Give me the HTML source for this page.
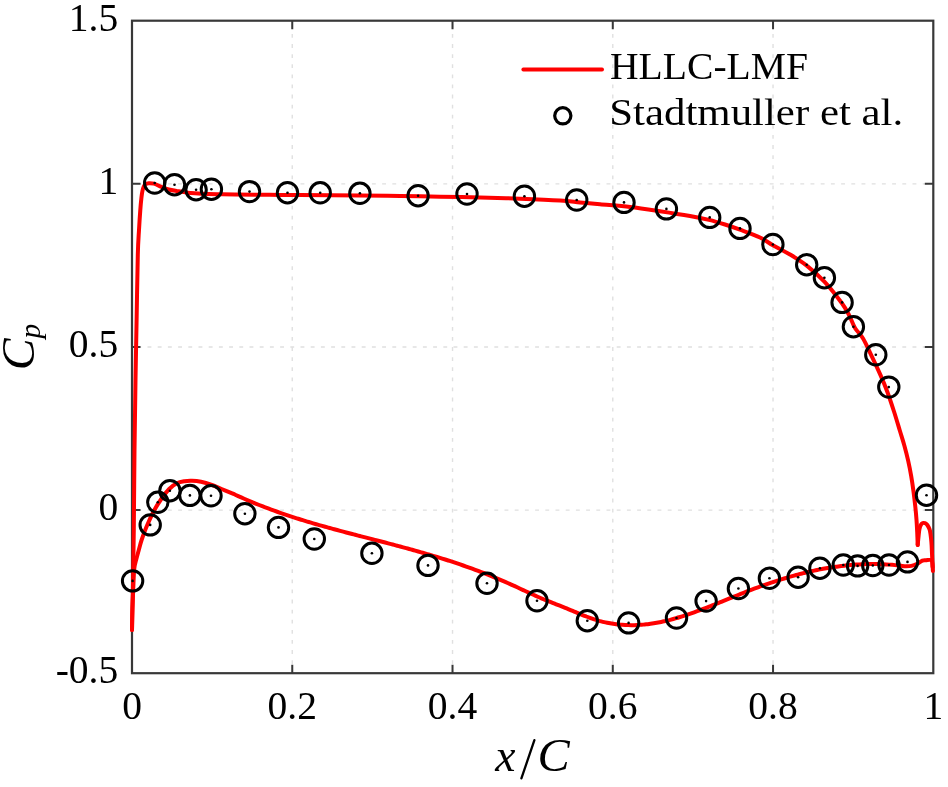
<!DOCTYPE html><html><head><meta charset="utf-8"><title>Cp plot</title><style>html,body{margin:0;padding:0;background:#fff;}svg{display:block;will-change:transform;}text{font-family:"Liberation Serif",serif;}</style></head><body>
<svg width="948" height="787" viewBox="0 0 948 787">
<rect width="948" height="787" fill="#fff"/>
<g stroke="#e0e0e0" stroke-width="1.4" stroke-dasharray="3.8 6.3" stroke-dashoffset="6.9"><line x1="292.26" y1="20.70" x2="292.26" y2="673.20"/><line x1="452.52" y1="20.70" x2="452.52" y2="673.20"/><line x1="612.78" y1="20.70" x2="612.78" y2="673.20"/><line x1="773.04" y1="20.70" x2="773.04" y2="673.20"/></g>
<g stroke="#e0e0e0" stroke-width="1.4" stroke-dasharray="3.9 6.3" stroke-dashoffset="4.9"><line x1="132.00" y1="510.08" x2="933.30" y2="510.08"/><line x1="132.00" y1="346.95" x2="933.30" y2="346.95"/><line x1="132.00" y1="183.83" x2="933.30" y2="183.83"/></g>
<path d="M292.26,673.20V664.70M292.26,20.70V29.20M452.52,673.20V664.70M452.52,20.70V29.20M612.78,673.20V664.70M612.78,20.70V29.20M773.04,673.20V664.70M773.04,20.70V29.20M132.00,510.08H140.50M933.30,510.08H924.80M132.00,346.95H140.50M933.30,346.95H924.80M132.00,183.83H140.50M933.30,183.83H924.80" stroke="#383838" stroke-width="2" fill="none"/>
<rect x="132.00" y="20.70" width="801.30" height="652.50" fill="none" stroke="#383838" stroke-width="2.2"/>
<path d="M132.00,630.00 C132.07,626.67 132.25,616.67 132.40,610.00 C132.55,603.33 132.67,603.33 132.90,590.00 C133.13,576.67 133.53,553.33 133.80,530.00 C134.07,506.67 134.22,475.00 134.50,450.00 C134.78,425.00 135.15,401.67 135.50,380.00 C135.85,358.33 136.22,340.83 136.60,320.00 C136.98,299.17 137.40,270.00 137.80,255.00 C138.20,240.00 138.58,237.50 139.00,230.00 C139.42,222.50 139.90,215.33 140.30,210.00 C140.70,204.67 141.05,201.15 141.40,198.00 C141.75,194.85 142.00,193.02 142.40,191.10 C142.80,189.18 143.28,187.65 143.80,186.50 C144.32,185.35 144.68,184.75 145.50,184.20 C146.32,183.65 147.28,183.28 148.70,183.20 C150.12,183.12 151.88,183.08 154.00,183.70 C156.12,184.32 158.93,185.93 161.40,186.90 C163.87,187.87 166.17,188.80 168.80,189.50 C171.43,190.20 174.05,190.57 177.20,191.10 C180.35,191.63 184.18,192.32 187.70,192.70 C191.22,193.08 194.78,193.17 198.30,193.40 C201.82,193.63 205.28,193.95 208.80,194.10 C212.32,194.25 215.03,194.25 219.40,194.30 C223.77,194.35 226.57,194.32 235.00,194.40 C243.43,194.48 259.17,194.70 270.00,194.80 C280.83,194.90 285.00,194.88 300.00,195.00 C315.00,195.12 343.33,195.33 360.00,195.50 C376.67,195.67 386.67,195.80 400.00,196.00 C413.33,196.20 426.67,196.45 440.00,196.70 C453.33,196.95 466.67,197.17 480.00,197.50 C493.33,197.83 506.67,198.20 520.00,198.70 C533.33,199.20 550.00,199.88 560.00,200.50 C570.00,201.12 573.33,201.77 580.00,202.40 C586.67,203.03 591.67,203.53 600.00,204.30 C608.33,205.07 620.00,205.85 630.00,207.00 C640.00,208.15 650.00,209.70 660.00,211.20 C670.00,212.70 681.83,214.55 690.00,216.00 C698.17,217.45 703.17,218.48 709.00,219.90 C714.83,221.32 719.83,222.87 725.00,224.50 C730.17,226.13 734.17,227.53 740.00,229.70 C745.83,231.87 754.52,234.90 760.00,237.50 C765.48,240.10 767.90,242.47 772.90,245.30 C777.90,248.13 784.37,251.12 790.00,254.50 C795.63,257.88 800.97,261.08 806.70,265.60 C812.43,270.12 818.50,275.28 824.40,281.60 C830.30,287.92 837.92,297.77 842.10,303.50 C846.28,309.23 847.35,311.92 849.50,316.00 C851.65,320.08 852.77,324.28 855.00,328.00 C857.23,331.72 860.32,334.03 862.90,338.30 C865.48,342.57 867.58,347.50 870.50,353.60 C873.42,359.70 877.60,368.55 880.40,374.90 C883.20,381.25 885.03,385.60 887.30,391.70 C889.57,397.80 891.92,405.03 894.00,411.50 C896.08,417.97 898.07,424.80 899.80,430.50 C901.53,436.20 903.00,440.63 904.40,445.70 C905.80,450.77 907.07,455.83 908.20,460.90 C909.33,465.97 910.32,471.02 911.20,476.10 C912.08,481.18 912.82,486.32 913.50,491.40 C914.18,496.48 914.80,501.87 915.30,506.60 C915.80,511.33 916.18,515.57 916.50,519.80 C916.82,524.03 917.00,527.80 917.20,532.00 C917.40,536.20 917.62,542.83 917.70,545.00" fill="none" stroke="#ff0000" stroke-width="4.0" stroke-linejoin="round" stroke-linecap="round"/>
<path d="M917.70,545.00 C917.85,543.50 918.32,538.60 918.60,536.00 C918.88,533.40 919.03,531.23 919.40,529.40 C919.77,527.57 920.23,526.07 920.80,525.00 C921.37,523.93 922.10,523.30 922.80,523.00 C923.50,522.70 924.33,522.97 925.00,523.20 C925.67,523.43 926.22,523.77 926.80,524.40 C927.38,525.03 927.98,525.98 928.50,527.00 C929.02,528.02 929.48,528.67 929.90,530.50 C930.32,532.33 930.72,535.58 931.00,538.00 C931.28,540.42 931.40,541.67 931.60,545.00 C931.80,548.33 931.98,553.67 932.20,558.00 C932.42,562.33 932.78,568.83 932.90,571.00" fill="none" stroke="#ff0000" stroke-width="4.0" stroke-linejoin="round" stroke-linecap="round"/>
<path d="M932.60,567.00 C932.42,565.90 932.60,561.53 931.50,560.40 C930.40,559.27 927.53,560.17 926.00,560.20 C924.47,560.23 923.77,560.00 922.30,560.60 C920.83,561.20 919.02,562.92 917.20,563.80 C915.38,564.68 913.43,565.48 911.40,565.90 C909.37,566.32 906.20,566.28 905.00,566.33 C903.80,566.39 904.83,566.30 904.20,566.22 C903.57,566.13 902.20,565.94 901.20,565.81 C900.20,565.69 899.20,565.57 898.20,565.45 C897.20,565.34 896.20,565.23 895.20,565.13 C894.20,565.03 893.20,564.94 892.20,564.85 C891.20,564.77 890.20,564.69 889.20,564.62 C888.20,564.54 887.20,564.48 886.20,564.42 C885.20,564.36 884.20,564.31 883.20,564.26 C882.20,564.22 881.20,564.18 880.20,564.15 C879.20,564.11 878.20,564.09 877.20,564.07 C876.20,564.05 875.20,564.04 874.20,564.03 C873.20,564.02 872.20,564.02 871.20,564.03 C870.20,564.03 869.20,564.05 868.20,564.06 C867.20,564.08 866.20,564.11 865.20,564.14 C864.20,564.17 863.20,564.21 862.20,564.25 C861.20,564.29 860.20,564.34 859.20,564.40 C858.20,564.45 857.20,564.51 856.20,564.58 C855.20,564.64 854.20,564.72 853.20,564.80 C852.20,564.87 851.20,564.96 850.20,565.05 C849.20,565.14 848.20,565.23 847.20,565.34 C846.20,565.44 845.20,565.54 844.20,565.66 C843.20,565.77 842.20,565.89 841.20,566.01 C840.20,566.13 839.20,566.26 838.20,566.40 C837.20,566.53 836.20,566.67 835.20,566.82 C834.20,566.96 833.20,567.11 832.20,567.27 C831.20,567.43 830.20,567.59 829.20,567.75 C828.20,567.92 827.20,568.09 826.20,568.27 C825.20,568.44 824.20,568.62 823.20,568.81 C822.20,569.00 821.20,569.19 820.20,569.39 C819.20,569.58 818.20,569.78 817.20,569.99 C816.20,570.20 815.20,570.41 814.20,570.62 C813.20,570.84 812.20,571.06 811.20,571.29 C810.20,571.51 809.20,571.74 808.20,571.98 C807.20,572.21 806.20,572.45 805.20,572.70 C804.20,572.94 803.20,573.19 802.20,573.44 C801.20,573.69 800.20,573.95 799.20,574.21 C798.20,574.48 797.20,574.74 796.20,575.01 C795.20,575.28 794.20,575.56 793.20,575.84 C792.20,576.12 791.20,576.40 790.20,576.69 C789.20,576.97 788.20,577.27 787.20,577.56 C786.20,577.86 785.20,578.16 784.20,578.46 C783.20,578.76 782.20,579.07 781.20,579.38 C780.20,579.69 779.20,580.01 778.20,580.33 C777.20,580.65 776.20,580.97 775.20,581.30 C774.20,581.63 773.20,581.96 772.20,582.29 C771.20,582.63 770.20,582.96 769.20,583.31 C768.20,583.65 767.20,583.99 766.20,584.34 C765.20,584.69 764.20,585.04 763.20,585.40 C762.20,585.75 761.20,586.11 760.20,586.47 C759.20,586.84 758.20,587.20 757.20,587.57 C756.20,587.94 755.20,588.31 754.20,588.69 C753.20,589.06 752.20,589.44 751.20,589.83 C750.20,590.21 749.20,590.59 748.20,590.98 C747.20,591.37 746.20,591.76 745.20,592.15 C744.20,592.55 743.20,592.94 742.20,593.34 C741.20,593.74 740.20,594.14 739.20,594.54 C738.20,594.94 737.20,595.34 736.20,595.75 C735.20,596.15 734.20,596.56 733.20,596.96 C732.20,597.37 731.20,597.77 730.20,598.18 C729.20,598.59 728.20,599.00 727.20,599.40 C726.20,599.81 725.20,600.22 724.20,600.63 C723.20,601.03 722.20,601.44 721.20,601.85 C720.20,602.25 719.20,602.66 718.20,603.06 C717.20,603.47 716.20,603.87 715.20,604.27 C714.20,604.67 713.20,605.07 712.20,605.47 C711.20,605.86 710.20,606.26 709.20,606.65 C708.20,607.05 707.20,607.44 706.20,607.82 C705.20,608.21 704.20,608.60 703.20,608.98 C702.20,609.36 701.20,609.74 700.20,610.11 C699.20,610.48 698.20,610.85 697.20,611.22 C696.20,611.59 695.20,611.95 694.20,612.31 C693.20,612.66 692.20,613.02 691.20,613.37 C690.20,613.71 689.20,614.06 688.20,614.40 C687.20,614.73 686.20,615.07 685.20,615.39 C684.20,615.72 683.20,616.04 682.20,616.36 C681.20,616.67 680.20,616.98 679.20,617.28 C678.20,617.59 677.20,617.88 676.20,618.17 C675.20,618.46 674.20,618.74 673.20,619.02 C672.20,619.29 671.20,619.56 670.20,619.82 C669.20,620.08 668.20,620.33 667.20,620.57 C666.20,620.81 665.20,621.05 664.20,621.27 C663.20,621.50 662.20,621.72 661.20,621.93 C660.20,622.14 659.20,622.34 658.20,622.53 C657.20,622.72 656.20,622.90 655.20,623.07 C654.20,623.24 653.20,623.40 652.20,623.55 C651.20,623.70 650.20,623.85 649.20,623.98 C648.20,624.11 647.20,624.23 646.20,624.34 C645.20,624.45 644.20,624.55 643.20,624.63 C642.20,624.72 641.20,624.80 640.20,624.87 C639.20,624.93 638.20,624.99 637.20,625.03 C636.20,625.08 635.20,625.11 634.20,625.13 C633.20,625.15 632.20,625.16 631.20,625.16 C630.20,625.16 629.20,625.15 628.20,625.12 C627.20,625.09 626.20,625.06 625.20,625.01 C624.20,624.96 623.20,624.90 622.20,624.82 C621.20,624.75 620.20,624.66 619.20,624.56 C618.20,624.46 617.20,624.35 616.20,624.23 C615.20,624.10 614.20,623.96 613.20,623.81 C612.20,623.66 611.20,623.50 610.20,623.32 C609.20,623.14 608.20,622.95 607.20,622.75 C606.20,622.54 605.20,622.33 604.20,622.10 C603.20,621.87 602.20,621.62 601.20,621.36 C600.20,621.11 599.20,620.84 598.20,620.55 C597.20,620.27 596.20,619.97 595.20,619.66 C594.20,619.34 593.20,619.02 592.20,618.68 C591.20,618.34 590.20,617.99 589.20,617.62 C588.20,617.26 587.20,616.88 586.20,616.49 C585.20,616.10 584.20,615.71 583.20,615.30 C582.20,614.90 581.20,614.49 580.20,614.07 C579.20,613.66 578.20,613.24 577.20,612.82 C576.20,612.40 575.20,611.98 574.20,611.56 C573.20,611.14 572.20,610.72 571.20,610.30 C570.20,609.88 569.20,609.47 568.20,609.06 C567.20,608.66 566.20,608.25 565.20,607.85 C564.20,607.45 563.20,607.05 562.20,606.66 C561.20,606.26 560.20,605.87 559.20,605.48 C558.20,605.08 557.20,604.69 556.20,604.30 C555.20,603.91 554.20,603.51 553.20,603.12 C552.20,602.73 551.20,602.33 550.20,601.93 C549.20,601.54 548.20,601.14 547.20,600.73 C546.20,600.33 545.20,599.92 544.20,599.51 C543.20,599.10 542.20,598.68 541.20,598.26 C540.20,597.84 539.20,597.41 538.20,596.98 C537.20,596.54 536.20,596.10 535.20,595.65 C534.20,595.21 533.20,594.75 532.20,594.29 C531.20,593.84 530.20,593.38 529.20,592.91 C528.20,592.45 527.20,591.98 526.20,591.51 C525.20,591.04 524.20,590.57 523.20,590.10 C522.20,589.63 521.20,589.16 520.20,588.70 C519.20,588.23 518.20,587.76 517.20,587.30 C516.20,586.84 515.20,586.38 514.20,585.92 C513.20,585.46 512.20,585.01 511.20,584.56 C510.20,584.11 509.20,583.67 508.20,583.22 C507.20,582.78 506.20,582.34 505.20,581.90 C504.20,581.47 503.20,581.04 502.20,580.61 C501.20,580.18 500.20,579.75 499.20,579.33 C498.20,578.90 497.20,578.48 496.20,578.07 C495.20,577.65 494.20,577.24 493.20,576.83 C492.20,576.42 491.20,576.01 490.20,575.61 C489.20,575.21 488.20,574.81 487.20,574.41 C486.20,574.01 485.20,573.62 484.20,573.23 C483.20,572.84 482.20,572.45 481.20,572.07 C480.20,571.68 479.20,571.30 478.20,570.92 C477.20,570.55 476.20,570.17 475.20,569.80 C474.20,569.43 473.20,569.06 472.20,568.70 C471.20,568.33 470.20,567.97 469.20,567.61 C468.20,567.25 467.20,566.89 466.20,566.54 C465.20,566.19 464.20,565.84 463.20,565.49 C462.20,565.14 461.20,564.80 460.20,564.46 C459.20,564.12 458.20,563.78 457.20,563.44 C456.20,563.10 455.20,562.77 454.20,562.44 C453.20,562.11 452.20,561.78 451.20,561.45 C450.20,561.13 449.20,560.80 448.20,560.48 C447.20,560.16 446.20,559.84 445.20,559.53 C444.20,559.21 443.20,558.89 442.20,558.58 C441.20,558.27 440.20,557.96 439.20,557.65 C438.20,557.34 437.20,557.04 436.20,556.73 C435.20,556.43 434.20,556.13 433.20,555.83 C432.20,555.53 431.20,555.23 430.20,554.94 C429.20,554.64 428.20,554.35 427.20,554.05 C426.20,553.76 425.20,553.47 424.20,553.18 C423.20,552.89 422.20,552.61 421.20,552.32 C420.20,552.03 419.20,551.75 418.20,551.47 C417.20,551.18 416.20,550.90 415.20,550.62 C414.20,550.34 413.20,550.07 412.20,549.79 C411.20,549.51 410.20,549.24 409.20,548.96 C408.20,548.69 407.20,548.41 406.20,548.14 C405.20,547.87 404.20,547.60 403.20,547.33 C402.20,547.06 401.20,546.79 400.20,546.52 C399.20,546.25 398.20,545.99 397.20,545.72 C396.20,545.45 395.20,545.19 394.20,544.92 C393.20,544.66 392.20,544.39 391.20,544.13 C390.20,543.87 389.20,543.61 388.20,543.34 C387.20,543.08 386.20,542.82 385.20,542.56 C384.20,542.30 383.20,542.04 382.20,541.78 C381.20,541.52 380.20,541.26 379.20,541.00 C378.20,540.74 377.20,540.48 376.20,540.23 C375.20,539.97 374.20,539.71 373.20,539.45 C372.20,539.19 371.20,538.93 370.20,538.68 C369.20,538.42 368.20,538.16 367.20,537.90 C366.20,537.65 365.20,537.39 364.20,537.13 C363.20,536.87 362.20,536.61 361.20,536.36 C360.20,536.10 359.20,535.84 358.20,535.58 C357.20,535.32 356.20,535.06 355.20,534.80 C354.20,534.54 353.20,534.28 352.20,534.02 C351.20,533.76 350.20,533.50 349.20,533.24 C348.20,532.97 347.20,532.71 346.20,532.45 C345.20,532.18 344.20,531.92 343.20,531.66 C342.20,531.39 341.20,531.12 340.20,530.86 C339.20,530.59 338.20,530.32 337.20,530.05 C336.20,529.78 335.20,529.51 334.20,529.24 C333.20,528.97 332.20,528.70 331.20,528.43 C330.20,528.15 329.20,527.88 328.20,527.60 C327.20,527.32 326.20,527.05 325.20,526.77 C324.20,526.49 323.20,526.21 322.20,525.92 C321.20,525.64 320.20,525.36 319.20,525.07 C318.20,524.78 317.20,524.50 316.20,524.21 C315.20,523.92 314.20,523.63 313.20,523.33 C312.20,523.04 311.20,522.75 310.20,522.45 C309.20,522.15 308.20,521.85 307.20,521.55 C306.20,521.25 305.20,520.95 304.20,520.64 C303.20,520.33 302.20,520.03 301.20,519.72 C300.20,519.41 299.20,519.09 298.20,518.78 C297.20,518.46 296.20,518.15 295.20,517.83 C294.20,517.51 293.20,517.18 292.20,516.86 C291.20,516.53 290.20,516.20 289.20,515.87 C288.20,515.54 287.20,515.21 286.20,514.87 C285.20,514.54 284.20,514.20 283.20,513.85 C282.20,513.51 281.20,513.17 280.20,512.82 C279.20,512.47 278.20,512.12 277.20,511.76 C276.20,511.41 275.20,511.05 274.20,510.69 C273.20,510.33 272.20,509.96 271.20,509.60 C270.20,509.23 269.20,508.86 268.20,508.48 C267.20,508.11 266.20,507.73 265.20,507.35 C264.20,506.97 263.20,506.58 262.20,506.19 C261.20,505.80 260.20,505.41 259.20,505.01 C258.20,504.61 257.20,504.21 256.20,503.81 C255.20,503.41 254.20,503.00 253.20,502.58 C252.20,502.17 251.20,501.76 250.20,501.33 C249.20,500.91 248.20,500.49 247.20,500.06 C246.20,499.63 245.20,499.20 244.20,498.76 C243.20,498.32 242.20,497.88 241.20,497.43 C240.20,496.99 239.20,496.54 238.20,496.08 C237.20,495.62 236.20,495.16 235.20,494.70 C234.20,494.24 234.47,494.24 232.20,493.29 C229.93,492.34 225.12,490.45 221.60,489.00 C218.08,487.55 214.53,485.80 211.10,484.60 C207.67,483.40 204.18,482.43 201.00,481.80 C197.82,481.17 194.77,480.90 192.00,480.80 C189.23,480.70 186.93,480.78 184.40,481.20 C181.87,481.62 179.33,482.00 176.80,483.30 C174.27,484.60 171.73,486.47 169.20,489.00 C166.67,491.53 164.13,494.87 161.60,498.50 C159.07,502.13 156.53,506.05 154.00,510.80 C151.47,515.55 148.47,522.13 146.40,527.00 C144.33,531.87 142.87,536.17 141.60,540.00 C140.33,543.83 139.72,546.67 138.80,550.00 C137.88,553.33 136.87,556.83 136.10,560.00 C135.33,563.17 134.68,564.00 134.20,569.00 C133.72,574.00 133.50,583.17 133.20,590.00 C132.90,596.83 132.60,603.33 132.40,610.00 C132.20,616.67 132.07,626.67 132.00,630.00" fill="none" stroke="#ff0000" stroke-width="4.0" stroke-linejoin="round" stroke-linecap="round"/>
<g fill="none" stroke="#000" stroke-width="3.0"><circle cx="154.7" cy="183.0" r="10.2"/><circle cx="174.5" cy="184.7" r="10.2"/><circle cx="196.1" cy="189.7" r="10.2"/><circle cx="211.4" cy="189.2" r="10.2"/><circle cx="249.5" cy="191.6" r="10.2"/><circle cx="287.5" cy="192.7" r="10.2"/><circle cx="320.2" cy="192.8" r="10.2"/><circle cx="359.9" cy="193.3" r="10.2"/><circle cx="418.1" cy="195.7" r="10.2"/><circle cx="467.0" cy="194.0" r="10.2"/><circle cx="524.4" cy="196.2" r="10.2"/><circle cx="576.7" cy="200.0" r="10.2"/><circle cx="624.0" cy="202.4" r="10.2"/><circle cx="666.4" cy="208.9" r="10.2"/><circle cx="709.7" cy="217.4" r="10.2"/><circle cx="740.0" cy="228.4" r="10.2"/><circle cx="772.9" cy="244.5" r="10.2"/><circle cx="806.7" cy="264.7" r="10.2"/><circle cx="824.4" cy="277.7" r="10.2"/><circle cx="842.1" cy="302.4" r="10.2"/><circle cx="853.4" cy="326.7" r="10.2"/><circle cx="875.8" cy="354.8" r="10.2"/><circle cx="888.8" cy="387.1" r="10.2"/><circle cx="926.5" cy="495.2" r="10.2"/><circle cx="132.6" cy="580.9" r="10.2"/><circle cx="150.2" cy="524.9" r="10.2"/><circle cx="157.8" cy="502.3" r="10.2"/><circle cx="169.9" cy="490.7" r="10.2"/><circle cx="189.9" cy="495.4" r="10.2"/><circle cx="211.0" cy="495.8" r="10.2"/><circle cx="244.9" cy="513.7" r="10.2"/><circle cx="278.5" cy="527.4" r="10.2"/><circle cx="314.3" cy="539.0" r="10.2"/><circle cx="371.9" cy="553.3" r="10.2"/><circle cx="428.0" cy="565.4" r="10.2"/><circle cx="487.0" cy="583.3" r="10.2"/><circle cx="537.0" cy="600.8" r="10.2"/><circle cx="587.3" cy="620.7" r="10.2"/><circle cx="628.6" cy="622.9" r="10.2"/><circle cx="676.5" cy="618.0" r="10.2"/><circle cx="706.1" cy="601.1" r="10.2"/><circle cx="738.4" cy="588.5" r="10.2"/><circle cx="769.4" cy="578.3" r="10.2"/><circle cx="798.1" cy="577.2" r="10.2"/><circle cx="819.9" cy="568.2" r="10.2"/><circle cx="843.3" cy="565.0" r="10.2"/><circle cx="857.6" cy="565.9" r="10.2"/><circle cx="872.8" cy="565.5" r="10.2"/><circle cx="889.0" cy="565.0" r="10.2"/><circle cx="907.5" cy="561.9" r="10.2"/></g>
<g fill="#000"><circle cx="154.7" cy="183.0" r="1.3"/><circle cx="174.5" cy="184.7" r="1.3"/><circle cx="196.1" cy="189.7" r="1.3"/><circle cx="211.4" cy="189.2" r="1.3"/><circle cx="249.5" cy="191.6" r="1.3"/><circle cx="287.5" cy="192.7" r="1.3"/><circle cx="320.2" cy="192.8" r="1.3"/><circle cx="359.9" cy="193.3" r="1.3"/><circle cx="418.1" cy="195.7" r="1.3"/><circle cx="467.0" cy="194.0" r="1.3"/><circle cx="524.4" cy="196.2" r="1.3"/><circle cx="576.7" cy="200.0" r="1.3"/><circle cx="624.0" cy="202.4" r="1.3"/><circle cx="666.4" cy="208.9" r="1.3"/><circle cx="709.7" cy="217.4" r="1.3"/><circle cx="740.0" cy="228.4" r="1.3"/><circle cx="772.9" cy="244.5" r="1.3"/><circle cx="806.7" cy="264.7" r="1.3"/><circle cx="824.4" cy="277.7" r="1.3"/><circle cx="842.1" cy="302.4" r="1.3"/><circle cx="853.4" cy="326.7" r="1.3"/><circle cx="875.8" cy="354.8" r="1.3"/><circle cx="888.8" cy="387.1" r="1.3"/><circle cx="926.5" cy="495.2" r="1.3"/><circle cx="132.6" cy="580.9" r="1.3"/><circle cx="150.2" cy="524.9" r="1.3"/><circle cx="157.8" cy="502.3" r="1.3"/><circle cx="169.9" cy="490.7" r="1.3"/><circle cx="189.9" cy="495.4" r="1.3"/><circle cx="211.0" cy="495.8" r="1.3"/><circle cx="244.9" cy="513.7" r="1.3"/><circle cx="278.5" cy="527.4" r="1.3"/><circle cx="314.3" cy="539.0" r="1.3"/><circle cx="371.9" cy="553.3" r="1.3"/><circle cx="428.0" cy="565.4" r="1.3"/><circle cx="487.0" cy="583.3" r="1.3"/><circle cx="537.0" cy="600.8" r="1.3"/><circle cx="587.3" cy="620.7" r="1.3"/><circle cx="628.6" cy="622.9" r="1.3"/><circle cx="676.5" cy="618.0" r="1.3"/><circle cx="706.1" cy="601.1" r="1.3"/><circle cx="738.4" cy="588.5" r="1.3"/><circle cx="769.4" cy="578.3" r="1.3"/><circle cx="798.1" cy="577.2" r="1.3"/><circle cx="819.9" cy="568.2" r="1.3"/><circle cx="843.3" cy="565.0" r="1.3"/><circle cx="857.6" cy="565.9" r="1.3"/><circle cx="872.8" cy="565.5" r="1.3"/><circle cx="889.0" cy="565.0" r="1.3"/><circle cx="907.5" cy="561.9" r="1.3"/></g>
<text x="118.20" y="30.50" font-size="39.5" text-anchor="end" fill="#000" >1.5</text>
<text x="118.20" y="193.63" font-size="39.5" text-anchor="end" fill="#000" >1</text>
<text x="118.20" y="356.75" font-size="39.5" text-anchor="end" fill="#000" >0.5</text>
<text x="118.20" y="519.88" font-size="39.5" text-anchor="end" fill="#000" >0</text>
<text x="118.20" y="683.00" font-size="39.5" text-anchor="end" fill="#000" >-0.5</text>
<text x="132.00" y="718.90" font-size="39.5" text-anchor="middle" fill="#000" >0</text>
<text x="292.26" y="718.90" font-size="39.5" text-anchor="middle" fill="#000" >0.2</text>
<text x="452.52" y="718.90" font-size="39.5" text-anchor="middle" fill="#000" >0.4</text>
<text x="612.78" y="718.90" font-size="39.5" text-anchor="middle" fill="#000" >0.6</text>
<text x="773.04" y="718.90" font-size="39.5" text-anchor="middle" fill="#000" >0.8</text>
<text x="933.30" y="718.90" font-size="39.5" text-anchor="middle" fill="#000" >1</text>
<text x="495.2" y="771" font-size="45.5" font-style="italic" fill="#000">x</text>
<line x1="521.4" y1="778.4" x2="534.4" y2="740.2" stroke="#000" stroke-width="2.3" stroke-linecap="round"/>
<text x="537.6" y="770.9" font-size="46.6" font-style="italic" textLength="32.2" lengthAdjust="spacingAndGlyphs" fill="#000">C</text>
<g transform="rotate(-90)"><text x="-370.3" y="33.9" font-size="45.4" font-style="italic" textLength="31.9" lengthAdjust="spacingAndGlyphs" fill="#000">C</text><text x="-338.5" y="39.8" font-size="29.5" font-style="italic" fill="#000">p</text></g>
<line x1="523.3" y1="69.5" x2="602.1" y2="69.5" stroke="#ff0000" stroke-width="3.8" stroke-linecap="round"/>
<circle cx="562.8" cy="115.8" r="8.1" fill="none" stroke="#000" stroke-width="3.2"/>
<text x="610" y="79.2" font-size="38.4" textLength="198" lengthAdjust="spacingAndGlyphs" fill="#000">HLLC-LMF</text>
<text x="609.2" y="125.2" font-size="38.4" textLength="294" lengthAdjust="spacingAndGlyphs" fill="#000">Stadtmuller et al.</text>
</svg></body></html>
